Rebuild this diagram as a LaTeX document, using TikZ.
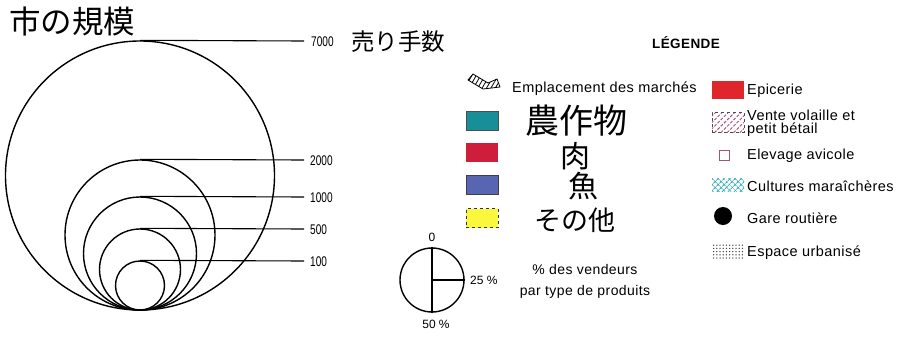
\documentclass[tikz,border=0pt]{standalone}
\usepackage{fontspec}
\setmainfont{Liberation Sans}
\newfontfamily\legfont{Liberation Sans}[LetterSpace=3]
\newfontfamily\jafont{Noto Sans CJK JP}
\usetikzlibrary{patterns,patterns.meta}
\definecolor{tealsw}{RGB}{24,142,152}
\definecolor{meatsw}{RGB}{206,30,60}
\definecolor{fishsw}{RGB}{86,102,178}
\definecolor{othersw}{RGB}{250,248,60}
\definecolor{epicsw}{RGB}{222,38,44}
\definecolor{hatchpink}{RGB}{170,80,120}
\definecolor{cultteal}{RGB}{60,180,190}
\tikzset{
  ring/.style={circle, draw, line width=1.4pt, inner sep=0pt},
  leader/.style={line width=1.1pt},
  sizelabel/.style={anchor=west, inner sep=0pt, font=\fontsize{14}{14}\selectfont},
  swatch/.style={minimum width=32pt, minimum height=19pt, inner sep=0pt},
  legtext/.style={anchor=west, inner sep=0pt, align=left, font=\legfont\fontsize{14.5}{13.5}\selectfont},
  hand/.style={inner sep=0pt, font=\jafont\fontsize{#1}{#1}\selectfont},
}
\newcommand{\narrow}[1]{\scalebox{0.72}[1]{#1}}
\begin{document}
\begin{tikzpicture}[x=1pt,y=-1pt]
\useasboundingbox (0,0) rectangle (905,338);

% nested size circles, all tangent at the bottom
\node[ring, minimum size=269pt] (c7000) at (140,175.5) {};
\node[ring, minimum size=150pt] (c2000) at (140,235) {};
\node[ring, minimum size=113pt] (c1000) at (140,253.5) {};
\node[ring, minimum size=81pt]  (c500)  at (140,269.5) {};
\node[ring, minimum size=49pt]  (c100)  at (140,285.5) {};

\coordinate (e7000) at (304,41);
\coordinate (e2000) at (304,160);
\coordinate (e1000) at (304,197);
\coordinate (e500)  at (304,229);
\coordinate (e100)  at (304,261);
\draw[leader] (c7000.north) -- (e7000);
\draw[leader] (c2000.north) -- (e2000);
\draw[leader] (c1000.north) -- (e1000);
\draw[leader] (c500.north)  -- (e500);
\draw[leader] (c100.north)  -- (e100);
\node[sizelabel] (l7000) at (311,42) {\narrow{7000}};
\node[sizelabel] (l2000) at (310,161) {\narrow{2000}};
\node[sizelabel] (l1000) at (310,198) {\narrow{1000}};
\node[sizelabel] (l500)  at (310,230) {\narrow{500}};
\node[sizelabel] (l100)  at (310,262) {\narrow{100}};

% handwritten titles
\node[hand=31.5, anchor=west] (title) at (9,21) {市の規模};
\node[hand=23.5, anchor=west] (sellers) at (351,42) {売り手数};

% legend heading
\node[inner sep=0pt, font=\bfseries\legfont\fontsize{13.5}{12}\selectfont] (legend) at (686,43) {LÉGENDE};

% market location symbol: a bent hatched band
\node[inner sep=0pt, minimum width=32pt, minimum height=16pt] (mk) at (484,82) {};
\draw[line width=0.8pt, line join=round, pattern={Lines[angle=60,distance=3.8pt,line width=0.8pt]}]
  (468,80) -- (473,74) -- (488,83) -- (497,79) -- (500,87) -- (483,89) -- cycle;
\node[legtext] (mktext) at (512,89) {Emplacement des marchés};

% product swatches (left column)
\node[swatch, fill=tealsw, draw=black!70, line width=0.8pt] (s1) at (482,121) {};
\node[swatch, fill=meatsw] (s2) at (482,152) {};
\node[swatch, fill=fishsw, draw=black!75, line width=0.8pt] (s3) at (482,185) {};
\node[swatch, fill=othersw, draw=black!80, dashed, line width=0.8pt] (s4) at (482,218) {};
\node[hand=34] (t1) at (576,121) {農作物};
\node[hand=30] (t2) at (575,156) {肉};
\node[hand=30] (t3) at (583,186) {魚};
\node[hand=27] (t4) at (575,220) {その他};

% right column
\node[swatch, minimum height=18pt, fill=epicsw] (r1) at (728,90) {};
\node[legtext] (r1t) at (747,91) {Epicerie};
\node[swatch, minimum height=20pt, pattern={Lines[angle=45,distance=4.5pt,line width=0.9pt]}, pattern color=hatchpink, draw=black!70, dashed, line width=0.6pt] (r2) at (728,122) {};
\node[legtext] (r2t) at (747,123) {Vente volaille et\\petit bétail};
\node[minimum size=10pt, inner sep=0pt, draw=hatchpink, line width=1pt] (r3) at (724,155) {};
\node[legtext] (r3t) at (747,156) {Elevage avicole};
\node[swatch, minimum height=13pt, pattern={Hatch[angle=45,distance=4pt,line width=0.9pt]}, pattern color=cultteal] (r4) at (728,185) {};
\node[legtext] (r4t) at (747,186) {Cultures maraîchères};
\node[circle, fill=black, minimum size=18pt, inner sep=0pt] (r5) at (723,216) {};
\node[legtext] (r5t) at (747,218) {Gare routière};
\node[swatch, minimum height=14pt, pattern={Dots[distance=3.2pt,radius=0.75pt]}, pattern color=black!70] (r6) at (728,251) {};
\node[legtext] (r6t) at (747,253) {Espace urbanisé};

% share-of-vendors key
\node[ring, minimum size=64pt] (pie) at (432,280) {};
\draw[line width=1.2pt] (pie.north) -- (pie.south);
\draw[line width=1.2pt] (pie.center) -- (pie.east);
\node[inner sep=0pt, font=\fontsize{12}{12}\selectfont] (p0) at (432,237) {0};
\node[inner sep=0pt, anchor=west, font=\fontsize{12}{12}\selectfont] (p25) at (470,280) {25 \%};
\node[inner sep=0pt, font=\fontsize{12}{12}\selectfont] (p50) at (436,324) {50 \%};
\node[inner sep=0pt, align=center, font=\legfont\fontsize{14}{21}\selectfont] (pct) at (585,281) {\% des vendeurs\\par type de produits};
\end{tikzpicture}
\end{document}
